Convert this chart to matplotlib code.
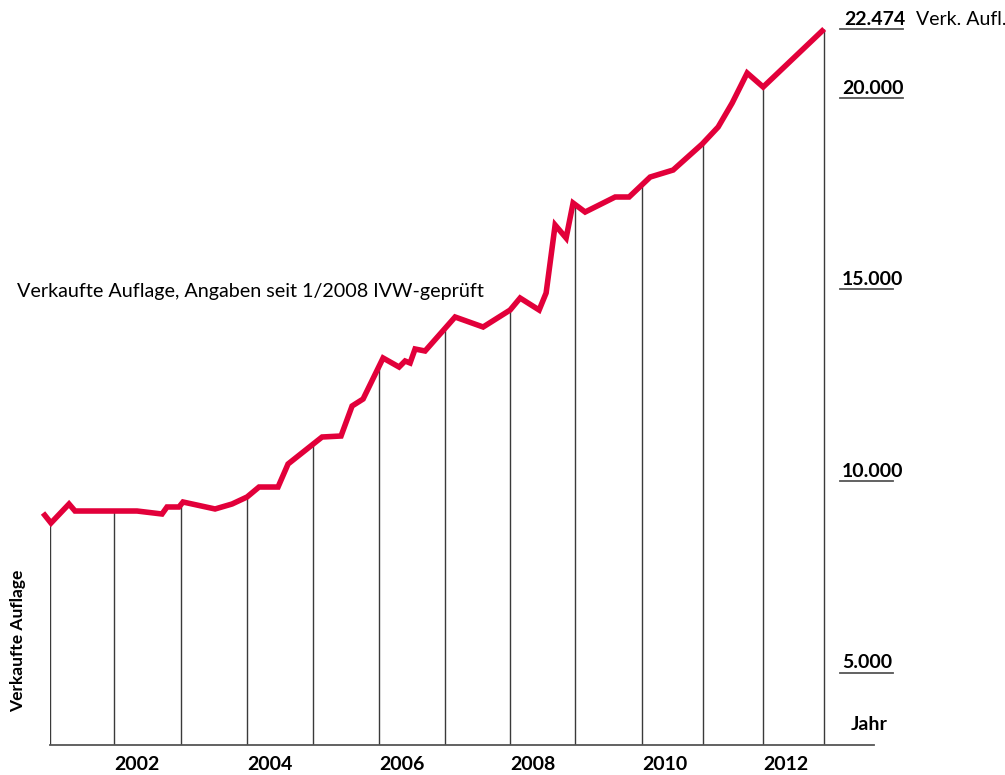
import numpy as np
import matplotlib
matplotlib.use('Agg')
import matplotlib.pyplot as plt
from matplotlib.transforms import blended_transform_factory

plt.rcParams['font.family'] = ['Lato', 'DejaVu Sans']

# position on the time axis (years, as drawn) and sold circulation
pos = [2000.894, 2001.015, 2001.289, 2001.380, 2002.322, 2002.702, 2002.778,
       2002.960, 2003.021, 2003.508, 2003.766, 2003.994, 2004.176, 2004.465,
       2004.617, 2005.134, 2005.422, 2005.590, 2005.757, 2006.061, 2006.304,
       2006.395, 2006.471, 2006.547, 2006.699, 2007.155, 2007.581, 2007.991,
       2008.143, 2008.432, 2008.538, 2008.675, 2008.842, 2008.948, 2009.131,
       2009.587, 2009.799, 2010.119, 2010.468, 2010.909, 2011.152, 2011.365,
       2011.593, 2011.836, 2012.763]
auflage = [9165, 8904, 9400, 9217, 9217, 9139, 9322,
           9322, 9452, 9270, 9400, 9583, 9843, 9843,
           10444, 11148, 11174, 11957, 12139, 13209, 12974,
           13131, 13079, 13444, 13392, 14279, 14018, 14461,
           14774, 14461, 14905, 16679, 16340, 17253, 17018,
           17410, 17410, 17931, 18114, 18792, 19236, 19862,
           20645, 20280, 21793]

# vertical drop lines (start of each year as drawn)
drop_pos = [2001.0, 2001.973, 2002.991, 2003.994, 2004.997, 2006.0, 2007.003,
            2007.991, 2008.979, 2009.997, 2010.924, 2011.836, 2012.763]
year_labels = ['2002', '2004', '2006', '2008', '2010', '2012']

y_ticks = [5000, 10000, 15000, 20000]
y_tick_labels = ['5.000', '10.000', '15.000', '20.000']
last_label = '22.474'

red = '#E2003A'

fig = plt.figure(figsize=(10.05, 7.75), dpi=100)
ax = fig.add_axes([50 / 1005, 30 / 775, 824 / 1005, 745 / 775])

ymin, ymax = 3112, 22550
ax.set_ylim(ymin, ymax)
ax.set_xlim(2001.0, 2013.52)

tops = np.interp(drop_pos, pos, auflage)
ax.vlines(drop_pos, ymin, tops, color='#3a3a3a', lw=1.0, zorder=1)
ax.plot(pos, auflage, color=red, lw=4.0, solid_joinstyle='miter',
        solid_capstyle='butt', clip_on=False, zorder=3)

for s in ['left', 'right', 'top']:
    ax.spines[s].set_visible(False)
ax.spines['bottom'].set_color('#555555')
ax.spines['bottom'].set_linewidth(1.3)

ax.set_yticks([])
ax.set_xticks(drop_pos[1::2])
ax.set_xticklabels(year_labels, ha='left', fontsize=14, fontweight='bold')
ax.tick_params(axis='x', length=0, pad=8)

# right-hand value labels with underline
tr = blended_transform_factory(fig.transFigure, ax.transData)
for v, lab in zip(y_ticks, y_tick_labels):
    x1 = 903 if v == 20000 else 893
    ax.plot([840 / 1005, x1 / 1005], [v, v], transform=tr, color='#555555',
            lw=1.3, clip_on=False)
    ax.annotate(lab, (842 / 1005, v), xycoords=tr, xytext=(0, 3),
                textcoords='offset points', fontsize=14, fontweight='bold',
                va='baseline', ha='left')

v_last = auflage[-1]
ax.plot([840 / 1005, 903 / 1005], [v_last, v_last], transform=tr,
        color='#555555', lw=1.3, clip_on=False)
ax.annotate(last_label, (844 / 1005, v_last), xycoords=tr, xytext=(0, 3),
            textcoords='offset points', fontsize=14, fontweight='bold',
            va='baseline', ha='left')
ax.annotate('Verk. Aufl.', (916 / 1005, v_last), xycoords=tr, xytext=(0, 3),
            textcoords='offset points', fontsize=14, va='baseline', ha='left')

fig.text(851 / 1005, 1 - 730 / 775, 'Jahr', fontsize=14, fontweight='bold',
         va='baseline', ha='left')
fig.text(18 / 1005, 1 - 641 / 775, 'Verkaufte Auflage', fontsize=12.5,
         fontweight='bold', rotation=90, va='center', ha='center')
fig.text(17 / 1005, 1 - 297 / 775,
         'Verkaufte Auflage, Angaben seit 1/2008 IVW-geprüft',
         fontsize=14.2, va='baseline', ha='left')

fig.savefig('out.png', dpi=100)
